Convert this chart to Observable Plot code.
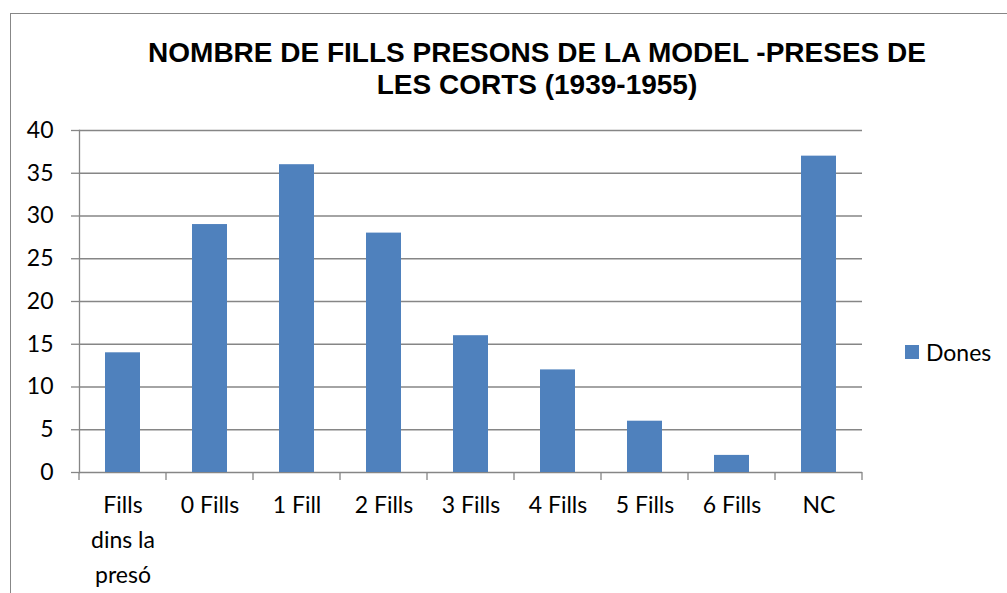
<!DOCTYPE html>
<html>
<head>
<meta charset="utf-8">
<script src="https://cdn.jsdelivr.net/npm/d3@7"></script>
<script src="https://cdn.jsdelivr.net/npm/@observablehq/plot@0.6"></script>
<style>
  html, body { margin: 0; padding: 0; background: #fff; overflow: hidden; }
  #wrap { position: relative; width: 1007px; height: 593px; overflow: hidden; }
  #border { position: absolute; left: 10px; top: 13px; width: 1200px; height: 800px; border: 1px solid #878787; box-sizing: border-box; }
  #title { position: absolute; left: 137px; top: 37px; width: 800px; text-align: center;
           font-family: "Liberation Sans", Arial, sans-serif; font-weight: bold; font-size: 28px;
           line-height: 32px; color: #000; letter-spacing: 0px; white-space: nowrap; }
  #chart { position: absolute; left: 0; top: 0; }
  #legend { position: absolute; left: 905px; top: 337px; height: 30px; display: flex; align-items: center;
            font-family: Lato, sans-serif; font-size: 23px; color: #000; }
  #legend .sw { width: 14px; height: 14px; background: #4F81BD; margin-right: 7px; }
</style>
</head>
<body>
<div id="wrap">
  <div id="border"></div>
  <div id="chart"></div>
  <div id="title">NOMBRE DE FILLS PRESONS DE LA MODEL -PRESES DE<br>LES CORTS (1939-1955)</div>
  <div id="legend"><div class="sw"></div><span>Dones</span></div>
</div>
<script>
const categories = ["Fills\ndins la\npresó", "0 Fills", "1 Fill", "2 Fills", "3 Fills", "4 Fills", "5 Fills", "6 Fills", "NC"];
const dones = [14, 29, 36, 28, 16, 12, 6, 2, 37];
const yTicks = [0, 5, 10, 15, 20, 25, 30, 35, 40];
const seriesName = "Dones";

const data = categories.map((c, i) => ({cat: c, val: dones[i], series: seriesName}));
const gridColor = "#868686";

const plot = Plot.plot({
  width: 1007,
  height: 593,
  marginLeft: 79,
  marginRight: 145,
  marginTop: 130,
  marginBottom: 121,
  style: {fontFamily: "Lato, sans-serif", fontSize: "23px", color: "#000", background: "transparent"},
  x: {domain: categories, paddingInner: 0.6, paddingOuter: 0.3},
  y: {domain: [0, 40], ticks: yTicks},
  marks: [
    Plot.gridY(yTicks, {stroke: gridColor, strokeOpacity: 1, strokeWidth: 1.3}),
    Plot.barY(data, {x: "cat", y: "val", fill: "#4F81BD"}),
    Plot.axisY(yTicks, {tickSize: 8, tickPadding: 18, stroke: gridColor, strokeWidth: 1.3, fontSize: 23, label: null, tickFormat: d => String(d)}),
    Plot.axisX({tickSize: 0, tickPadding: 16, label: null, fontSize: 23, lineHeight: 1.52, tickFormat: d => d}),
    Plot.frame({anchor: "left", stroke: gridColor, strokeWidth: 1.3})
  ]
});

document.getElementById("chart").appendChild(plot);

// category boundary ticks on the x axis, from the band scale
const xs = plot.scale("x");
const ys = plot.scale("y");
const gap = (xs.step - xs.bandwidth) / 2;
const bounds = categories.map(c => xs.apply(c) - gap);
bounds.push(xs.apply(categories[categories.length - 1]) + xs.bandwidth + gap);
const y0 = ys.apply(0);
d3.select(plot).append("g")
  .attr("stroke", gridColor).attr("stroke-width", 1.3)
  .selectAll("line").data(bounds).join("line")
  .attr("x1", d => d).attr("x2", d => d)
  .attr("y1", y0).attr("y2", y0 + 8);
</script>
</body>
</html>
